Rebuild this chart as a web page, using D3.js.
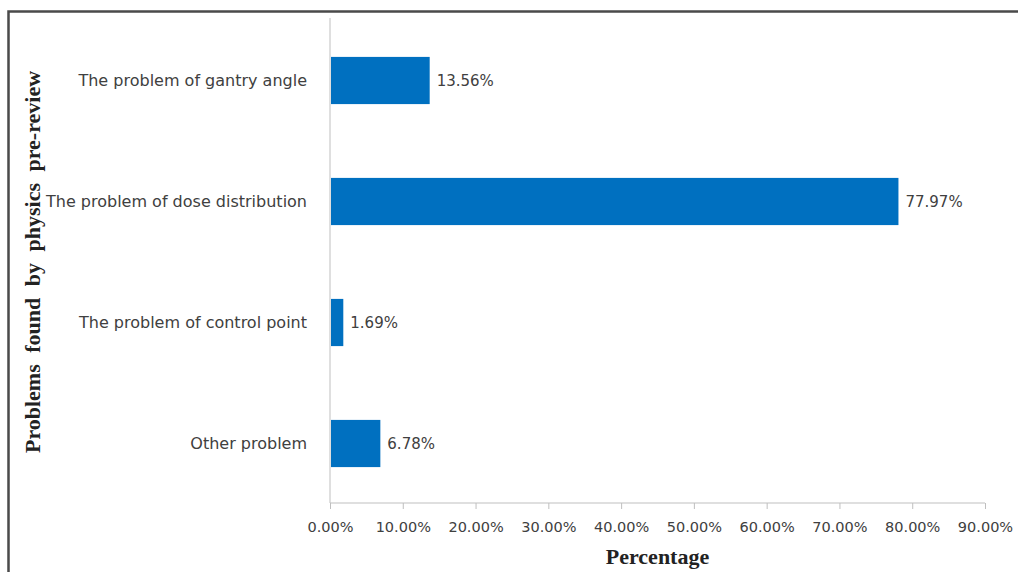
<!DOCTYPE html>
<html>
<head>
<meta charset="utf-8">
<script src="https://cdn.jsdelivr.net/npm/d3@7"></script>
<style>
  body { margin: 0; background: #fff; }
  svg { display: block; }
</style>
</head>
<body>
<svg id="chart" width="1018" height="572"></svg>
<script>
// data
var categories = ["The problem of gantry angle", "The problem of dose distribution",
                  "The problem of control point", "Other problem"];
var percents = [13.56, 77.97, 1.69, 6.78];
var xTicks = [0, 10, 20, 30, 40, 50, 60, 70, 80, 90];

var svg = d3.select("#chart");
var margin = {left: 330, right: 33, top: 18, bottom: 69};
var W = 1018, H = 572;
var font = "'DejaVu Sans', Verdana, sans-serif";

var x = d3.scaleLinear().domain([0, 90]).range([margin.left, W - margin.right]);
var y = d3.scaleBand().domain(categories).range([margin.top + 2, H - margin.bottom + 1]).paddingInner(0.61).paddingOuter(0.305);

// outer frame (top + left edges visible)
svg.append("path")
  .attr("d", "M8.5,572 V11.5 H1018")
  .attr("fill", "none").attr("stroke", "#4a4a4a").attr("stroke-width", 2.5);

// x axis
var xAxis = svg.append("g").attr("transform", "translate(0," + (H - margin.bottom) + ")")
  .call(d3.axisBottom(x).tickValues(xTicks).tickSize(6).tickPadding(13)
    .tickFormat(function(d){ return d.toFixed(2) + "%"; }));
xAxis.select(".domain").attr("stroke", "#bfbfbf").attr("d", "M" + x(0) + ",0H" + x(90));
xAxis.selectAll(".tick line").attr("stroke", "#bfbfbf");
xAxis.selectAll(".tick text").attr("fill", "#404040").style("font-family", font).style("font-size", "14.5px");

// y axis line
svg.append("line")
  .attr("x1", x(0)).attr("x2", x(0))
  .attr("y1", margin.top).attr("y2", H - margin.bottom)
  .attr("stroke", "#bfbfbf");

// bars
svg.selectAll("rect.bar").data(percents).enter().append("rect")
  .attr("class", "bar")
  .attr("x", x(0) + 1)
  .attr("y", function(d, i){ return y(categories[i]); })
  .attr("width", function(d){ return x(d) - x(0); })
  .attr("height", y.bandwidth())
  .attr("fill", "#0070c0");

// value labels
svg.selectAll("text.val").data(percents).enter().append("text")
  .attr("class", "val")
  .attr("x", function(d){ return x(d) + 8; })
  .attr("y", function(d, i){ return y(categories[i]) + y.bandwidth() / 2; })
  .attr("dy", "0.35em")
  .attr("fill", "#404040")
  .style("font-family", font).style("font-size", "15px")
  .text(function(d){ return d.toFixed(2) + "%"; });

// category labels
svg.selectAll("text.cat").data(categories).enter().append("text")
  .attr("class", "cat")
  .attr("x", 307)
  .attr("y", function(d){ return y(d) + y.bandwidth() / 2; })
  .attr("dy", "0.35em")
  .attr("text-anchor", "end")
  .attr("fill", "#404040")
  .style("font-family", font).style("font-size", "16px")
  .text(function(d){ return d; });

// axis titles
svg.append("text")
  .attr("x", (x(0) + x(90)) / 2).attr("y", 564)
  .attr("text-anchor", "middle")
  .style("font-family", "'Liberation Serif', 'DejaVu Serif', serif")
  .style("font-weight", "bold").style("font-size", "22px")
  .attr("fill", "#222")
  .text("Percentage");

svg.append("text")
  .attr("transform", "translate(40," + 262 + ") rotate(-90)")
  .attr("text-anchor", "middle")
  .style("font-family", "'Liberation Serif', 'DejaVu Serif', serif")
  .style("font-weight", "bold").style("font-size", "22px")
  .style("word-spacing", "6px")
  .attr("fill", "#222")
  .text("Problems found by physics pre-review");
</script>
</body>
</html>
